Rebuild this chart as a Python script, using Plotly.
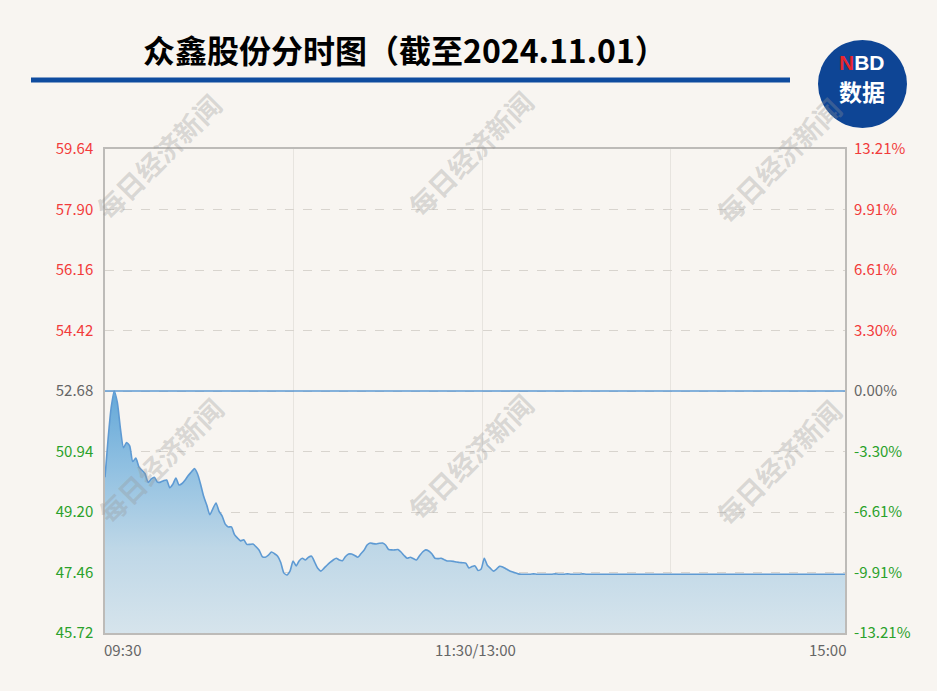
import plotly.graph_objects as go

# ---------------- data ----------------
title_text = "众鑫股份分时图（截至2024.11.01）"
prev_close = 52.68
prices = [
    50.20, 51.30, 52.20, 52.68, 52.35, 51.60, 51.05, 51.20, 51.10, 50.65,
    50.75, 50.50, 50.40, 50.30, 50.05, 50.15, 50.20, 50.06, 50.06, 50.10,
    50.12, 49.90, 50.00, 50.18, 49.98, 50.02, 50.12, 50.25, 50.35, 50.45,
    50.30, 50.00, 49.65, 49.40, 49.12, 49.30, 49.46, 49.22, 49.08, 48.85,
    48.77, 48.77, 48.55, 48.45, 48.37, 48.40, 48.27, 48.27, 48.28, 48.20,
    48.10, 47.92, 47.90, 47.96, 48.05, 48.00, 47.93, 47.75, 47.45, 47.39,
    47.50, 47.79, 47.65, 47.80, 47.87, 47.82, 47.90, 47.93, 47.76, 47.58,
    47.50, 47.58, 47.67, 47.75, 47.82, 47.87, 47.82, 47.80, 47.92, 47.99,
    47.99, 47.95, 47.90, 48.00, 48.10, 48.25, 48.31, 48.29, 48.28, 48.30,
    48.31, 48.25, 48.12, 48.11, 48.11, 48.12, 48.05, 47.95, 47.87, 47.90,
    47.86, 47.82, 47.94, 48.05, 48.11, 48.08, 48.00, 47.87, 47.86, 47.87,
    47.83, 47.79, 47.79, 47.78, 47.76, 47.75, 47.74, 47.73, 47.59, 47.63,
    47.65, 47.52, 47.56, 47.87, 47.67, 47.58, 47.50, 47.56, 47.64, 47.62,
    47.57, 47.52, 47.48, 47.45, 47.42, 47.41, 47.41, 47.41, 47.41, 47.42,
    47.41, 47.41, 47.41, 47.41, 47.41, 47.41, 47.42, 47.41, 47.41, 47.41,
    47.42, 47.41, 47.41, 47.41, 47.41, 47.42, 47.41, 47.41, 47.41, 47.41,
    47.41, 47.41, 47.41, 47.41, 47.41, 47.41, 47.41, 47.41, 47.41, 47.41,
    47.41, 47.41, 47.41, 47.41, 47.41, 47.41, 47.41, 47.41, 47.41, 47.41,
    47.41, 47.41, 47.41, 47.41, 47.41, 47.41, 47.41, 47.41, 47.41, 47.41,
    47.41, 47.41, 47.41, 47.41, 47.41, 47.41, 47.41, 47.41, 47.41, 47.41,
    47.41, 47.41, 47.41, 47.41, 47.41, 47.41, 47.41, 47.41, 47.41, 47.41,
    47.41, 47.41, 47.41, 47.41, 47.41, 47.41, 47.41, 47.41, 47.41, 47.41,
    47.41, 47.41, 47.41, 47.41, 47.41, 47.41, 47.41, 47.41, 47.41, 47.41,
    47.41, 47.41, 47.41, 47.41, 47.41, 47.41, 47.41, 47.41, 47.41, 47.41,
    47.41,
]
price_ticks = [45.72, 47.46, 49.20, 50.94, 52.68, 54.42, 56.16, 57.90, 59.64]
pct_ticks = [-13.21, -9.91, -6.61, -3.30, 0.00, 3.30, 6.61, 9.91, 13.21]
x_tick_index = [0, 120, 240]
x_tick_labels = ["09:30", "11:30/13:00", "15:00"]
watermark_text = "每日经济新闻"
logo_top = "NBD"
logo_bottom = "数据"

# ---------------- layout helpers ----------------
W, H = 937, 691
L, R, T, B = 105, 845, 149, 633
BG = "#f8f5f1"


def px(x):
    return (x - L) / (R - L)


def py(y):
    return (B - y) / (B - T)


FONT = "Noto Sans CJK SC"
RED, GREEN, GRAY = "#f23b3b", "#2aa12a", "#666666"


def colored(text, v, ref):
    c = RED if v > ref + 1e-9 else (GREEN if v < ref - 1e-9 else GRAY)
    return f"<span style='color:{c}'>{text}</span>"


minutes = list(range(len(prices)))
pcts = [(p - prev_close) / prev_close * 100 for p in prices]

fig = go.Figure()
fig.add_trace(go.Scatter(
    x=minutes, y=prices, mode="lines",
    line=dict(color="#5e9ad3", width=1.6, shape="spline", smoothing=0.6),
    fill="tozeroy",
    fillgradient=dict(
        type="vertical", start=price_ticks[0], stop=prev_close,
        colorscale=[[0, "rgb(214,228,236)"], [0.35, "rgb(190,215,231)"],
                    [0.7, "rgb(142,191,225)"], [1, "rgb(100,168,216)"]],
    ),
    hoverinfo="skip", showlegend=False,
))
fig.add_trace(go.Scatter(
    x=[minutes[0], minutes[-1]], y=[prev_close, prev_close], mode="lines",
    line=dict(color="#5e9ad3", width=1.5), hoverinfo="skip", showlegend=False,
))
fig.add_trace(go.Scatter(
    x=minutes, y=pcts, yaxis="y2", mode="lines", opacity=0,
    line=dict(width=0), hoverinfo="skip", showlegend=False,
))

annotations = []
# x labels
for xi, lab, anc, sh in zip(x_tick_index, x_tick_labels,
                            ["left", "center", "right"], [-3, 0, 3]):
    annotations.append(dict(
        x=xi, xref="x", y=py(649), yref="paper", text=lab, showarrow=False,
        xanchor=anc, yanchor="middle", xshift=sh,
        font=dict(family=FONT, size=15, color="#666666"),
    ))
# watermarks
for cx, cy in [(158, 156), (470, 153), (778, 160), (160, 460), (470, 456), (778, 462)]:
    annotations.append(dict(
        x=px(cx), y=py(cy), xref="paper", yref="paper", text=f"<b>{watermark_text}</b>",
        showarrow=False, textangle=-45, xanchor="center", yanchor="middle",
        font=dict(family=FONT, size=27, color="rgba(150,150,150,0.33)"),
    ))
# title
annotations.append(dict(
    x=px(405), y=py(49), xref="paper", yref="paper", text=f"<b>{title_text}</b>",
    showarrow=False, xanchor="center", yanchor="middle",
    font=dict(family=FONT, size=32, color="#000000"),
))
# logo texts
annotations.append(dict(
    x=px(862), y=py(62), xref="paper", yref="paper",
    text=f"<b><span style='color:#e8262d'>{logo_top[0]}</span>{logo_top[1:]}</b>",
    showarrow=False, xanchor="center", yanchor="middle", borderpad=0,
    font=dict(family="Liberation Sans", size=21, color="#ffffff"),
))
annotations.append(dict(
    x=px(862), y=py(91), xref="paper", yref="paper", text=f"<b>{logo_bottom}</b>",
    showarrow=False, xanchor="center", yanchor="middle", borderpad=0,
    font=dict(family=FONT, size=23, color="#ffffff"),
))

shapes = [
    dict(type="rect", xref="paper", yref="paper", x0=px(31), x1=px(790),
         y0=py(82.5), y1=py(77.5), fillcolor="#0f4c9f", line=dict(width=0)),
    dict(type="circle", xref="paper", yref="paper", x0=px(818), x1=px(907),
         y0=py(128), y1=py(40), fillcolor="#0e4595", line=dict(width=0)),
]

fig.update_layout(
    width=W, height=H,
    margin=dict(l=L, r=W - R, t=T, b=H - B, pad=0),
    paper_bgcolor=BG, plot_bgcolor=BG,
    showlegend=False,
    xaxis=dict(
        range=[minutes[0], minutes[-1]], showgrid=False, zeroline=False,
        showline=True, mirror=True, linecolor="#bdbbb8", linewidth=1.5,
        showticklabels=False, ticks="",
        minor=dict(tickvals=[61, 122.3, 183.3], showgrid=True,
                   gridcolor="#e7e4df", gridwidth=1, ticks=""),
    ),
    yaxis=dict(
        range=[price_ticks[0], price_ticks[-1]], tickvals=price_ticks,
        ticktext=[colored(f"{v:.2f}", v, prev_close) for v in price_ticks],
        showgrid=True, gridcolor="#d8d4ce", griddash="dash", gridwidth=1,
        zeroline=False, showline=True, mirror=True, linecolor="#bdbbb8", linewidth=1.5,
        ticks="", ticklabelstandoff=7, tickfont=dict(family=FONT, size=15),
    ),
    yaxis2=dict(
        overlaying="y", side="right", range=[pct_ticks[0], pct_ticks[-1]],
        tickvals=pct_ticks,
        ticktext=[colored(f"{v:.2f}%", v, 0.0) for v in pct_ticks],
        showgrid=False, zeroline=False, showline=False, ticks="",
        ticklabelstandoff=8, tickfont=dict(family=FONT, size=15),
    ),
    annotations=annotations,
    shapes=shapes,
)

fig.write_html(
    "out.html",
    config={"displayModeBar": False},
    post_script=(f"document.body.style.margin='0';"
                 f"document.body.style.background='{BG}';"),
)
